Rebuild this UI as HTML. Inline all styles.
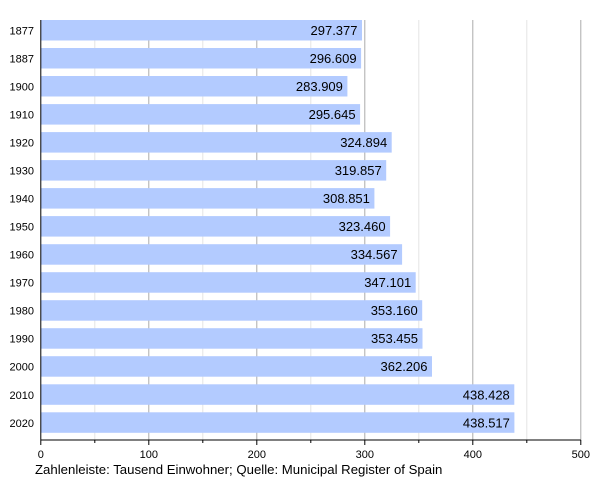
<!DOCTYPE html>
<html><head><style>body{margin:0;background:#fff}</style></head><body>
<svg width="600" height="480" xmlns="http://www.w3.org/2000/svg" font-family="Liberation Sans, sans-serif">
<g stroke-width="1">
<line x1="94.8" y1="20" x2="94.8" y2="440" stroke="#e4e4e4"/>
<line x1="148.8" y1="20" x2="148.8" y2="440" stroke="#aaa"/>
<line x1="202.8" y1="20" x2="202.8" y2="440" stroke="#e4e4e4"/>
<line x1="256.8" y1="20" x2="256.8" y2="440" stroke="#aaa"/>
<line x1="310.8" y1="20" x2="310.8" y2="440" stroke="#e4e4e4"/>
<line x1="364.8" y1="20" x2="364.8" y2="440" stroke="#aaa"/>
<line x1="418.8" y1="20" x2="418.8" y2="440" stroke="#e4e4e4"/>
<line x1="472.8" y1="20" x2="472.8" y2="440" stroke="#aaa"/>
<line x1="526.8" y1="20" x2="526.8" y2="440" stroke="#e4e4e4"/>
<line x1="580.8" y1="20" x2="580.8" y2="440" stroke="#aaa"/>
</g>
<g fill="#b3cbff">
<rect x="40.8" y="20" width="321.2" height="20.5"/>
<rect x="40.8" y="48" width="320.3" height="20.5"/>
<rect x="40.8" y="76" width="306.6" height="20.5"/>
<rect x="40.8" y="104.1" width="319.3" height="20.5"/>
<rect x="40.8" y="132.1" width="350.9" height="20.5"/>
<rect x="40.8" y="160.1" width="345.4" height="20.5"/>
<rect x="40.8" y="188.1" width="333.6" height="20.5"/>
<rect x="40.8" y="216.1" width="349.3" height="20.5"/>
<rect x="40.8" y="244.2" width="361.3" height="20.5"/>
<rect x="40.8" y="272.2" width="374.9" height="20.5"/>
<rect x="40.8" y="300.2" width="381.4" height="20.5"/>
<rect x="40.8" y="328.2" width="381.7" height="20.5"/>
<rect x="40.8" y="356.2" width="391.2" height="20.5"/>
<rect x="40.8" y="384.3" width="473.5" height="20.5"/>
<rect x="40.8" y="412.3" width="473.6" height="20.5"/>
</g>
<g font-size="13" text-anchor="end" fill="#000">
<text x="357.5" y="35">297.377</text>
<text x="356.6" y="63">296.609</text>
<text x="342.9" y="91">283.909</text>
<text x="355.6" y="119.1">295.645</text>
<text x="387.2" y="147.1">324.894</text>
<text x="381.7" y="175.1">319.857</text>
<text x="369.9" y="203.1">308.851</text>
<text x="385.6" y="231.1">323.460</text>
<text x="397.6" y="259.2">334.567</text>
<text x="411.2" y="287.2">347.101</text>
<text x="417.7" y="315.2">353.160</text>
<text x="418" y="343.2">353.455</text>
<text x="427.5" y="371.2">362.206</text>
<text x="509.8" y="399.3">438.428</text>
<text x="509.9" y="427.3">438.517</text>
</g>
<g font-size="11" text-anchor="end" fill="#000">
<text x="34" y="34.5">1877</text>
<text x="34" y="62.5">1887</text>
<text x="34" y="90.5">1900</text>
<text x="34" y="118.6">1910</text>
<text x="34" y="146.6">1920</text>
<text x="34" y="174.6">1930</text>
<text x="34" y="202.6">1940</text>
<text x="34" y="230.6">1950</text>
<text x="34" y="258.7">1960</text>
<text x="34" y="286.7">1970</text>
<text x="34" y="314.7">1980</text>
<text x="34" y="342.7">1990</text>
<text x="34" y="370.7">2000</text>
<text x="34" y="398.8">2010</text>
<text x="34" y="426.8">2020</text>
</g>
<g stroke="#000">
<line x1="40.8" y1="20" x2="40.8" y2="440"/>
<line x1="40.8" y1="440" x2="580.8" y2="440"/>
<line x1="40.8" y1="440" x2="40.8" y2="445"/>
<line x1="94.8" y1="440" x2="94.8" y2="443"/>
<line x1="148.8" y1="440" x2="148.8" y2="445"/>
<line x1="202.8" y1="440" x2="202.8" y2="443"/>
<line x1="256.8" y1="440" x2="256.8" y2="445"/>
<line x1="310.8" y1="440" x2="310.8" y2="443"/>
<line x1="364.8" y1="440" x2="364.8" y2="445"/>
<line x1="418.8" y1="440" x2="418.8" y2="443"/>
<line x1="472.8" y1="440" x2="472.8" y2="445"/>
<line x1="526.8" y1="440" x2="526.8" y2="443"/>
<line x1="580.8" y1="440" x2="580.8" y2="445"/>
</g>
<g font-size="11" text-anchor="middle" fill="#000">
<text x="40.8" y="458">0</text>
<text x="148.8" y="458">100</text>
<text x="256.8" y="458">200</text>
<text x="364.8" y="458">300</text>
<text x="472.8" y="458">400</text>
<text x="580.8" y="458">500</text>
</g>
<text x="35" y="474" font-size="13.2" fill="#000">Zahlenleiste: Tausend Einwohner; Quelle: Municipal Register of Spain</text>
</svg>
</body></html>
